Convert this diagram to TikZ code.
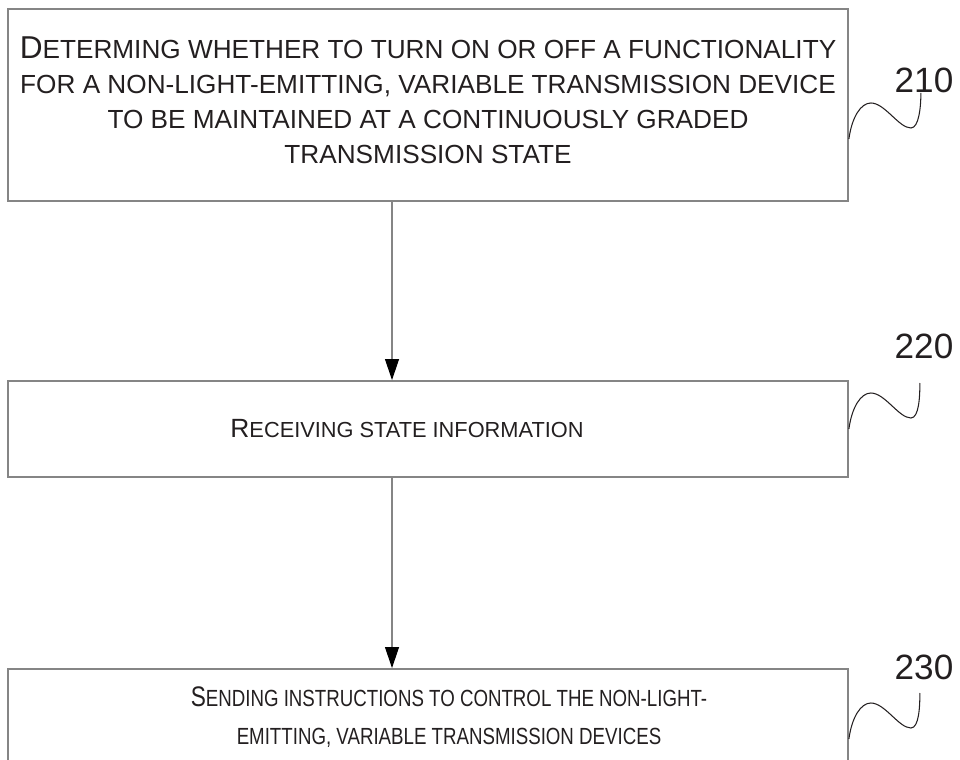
\documentclass[tikz,border=0pt]{standalone}
\usepackage{fontspec}
\setmainfont{Liberation Sans}
\newfontfamily\narrowfont{Liberation Sans}[FakeStretch=0.8]
\usetikzlibrary{arrows.meta,positioning}
\definecolor{boxgray}{HTML}{858585}
\definecolor{inkgray}{HTML}{231F20}
\newcommand{\initcap}[2]{{\fontsize{#1}{19.9pt}\selectfont #2}}

\begin{document}
\begin{tikzpicture}[x=0.02cm,y=-0.02cm]
\tikzstyle{stepbox}=[draw=boxgray,line width=1.1pt,rectangle,minimum width=16.8cm,inner sep=0pt]
\tikzstyle{steptext}=[inner sep=0pt,align=center,text=inkgray]
\tikzstyle{flow}=[draw=boxgray,line width=0.6pt,-{Triangle[length=4.2mm,width=2.8mm,color=black]}]
\tikzstyle{leader}=[draw=inkgray,line width=0.6pt]
\tikzstyle{reflabel}=[inner sep=0pt,text=inkgray,font=\fontsize{20pt}{24pt}\selectfont]
\clip (0,0) rectangle (960,760);
\node [stepbox,minimum height=3.84cm] (s210) at (428,105) {};
\node [stepbox,minimum height=1.92cm] (s220) at (428,429) {};
\node [stepbox,minimum height=1.94cm] (s230) at (428,717.5) {};
\node [steptext,yshift=0.1cm,font=\fontsize{14.9pt}{19.9pt}\selectfont] (t210) at (s210)
  {\initcap{18pt}{D}ETERMING WHETHER TO TURN ON OR OFF A FUNCTIONALITY\\
   FOR A NON-LIGHT-EMITTING, VARIABLE TRANSMISSION DEVICE\\
   TO BE MAINTAINED AT A CONTINUOUSLY GRADED\\
   TRANSMISSION STATE};
\node [steptext,xshift=-0.42cm,font=\fontsize{12.4pt}{19.9pt}\selectfont] (t220) at (s220)
  {\initcap{15pt}{R}ECEIVING STATE INFORMATION};
\node [steptext,xshift=0.42cm,font=\narrowfont\fontsize{13.3pt}{21.6pt}\selectfont] (t230) at (s230)
  {{\narrowfont\initcap{16.1pt}{S}}ENDING INSTRUCTIONS TO CONTROL THE NON-LIGHT-\\
   EMITTING, VARIABLE TRANSMISSION DEVICES};
\node [reflabel] (n210) at (924,80) {210};
\node [reflabel] (n220) at (924,346) {220};
\node [reflabel] (n230) at (924,667) {230};
\coordinate (w210) at ([yshift=-0.68cm]s210.east);
\coordinate (w220) at (s220.east);
\coordinate (w230) at ([yshift=-0.43cm]s230.east);
\path ([xshift=-0.72cm]s210.south) edge[flow] ([xshift=-0.72cm]s220.north)
      ([xshift=-0.72cm]s220.south) edge[flow] ([xshift=-0.72cm]s230.north);
\draw [leader] (w210) .. controls +(3,-22) and +(-10,0) .. ++(22,-36)
  .. controls +(14,0) and +(-12,0) .. ++(40,25)
  .. controls +(8,0) and +(0,14) .. ++(10,-35);
\draw [leader] (w220) .. controls +(3,-22) and +(-10,0) .. ++(22,-36)
  .. controls +(14,0) and +(-12,0) .. ++(40,25)
  .. controls +(8,0) and +(0,14) .. ++(9,-35);
\draw [leader] (w230) .. controls +(3,-22) and +(-10,0) .. ++(22,-36)
  .. controls +(14,0) and +(-12,0) .. ++(40,25)
  .. controls +(8,0) and +(0,14) .. ++(9,-35);
\end{tikzpicture}
\end{document}
